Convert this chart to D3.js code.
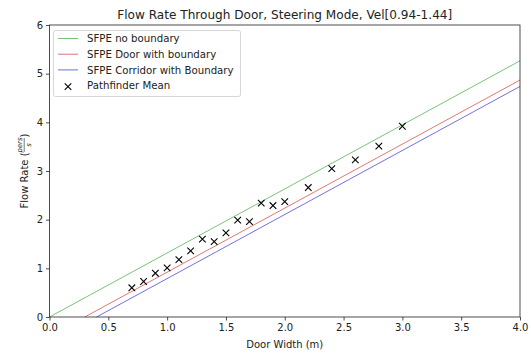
<!DOCTYPE html>
<html><head><meta charset="utf-8">
<script src="https://cdn.jsdelivr.net/npm/d3@7"></script>
<style>body{margin:0;background:#fff}svg{display:block}text{font-family:"DejaVu Sans",sans-serif;fill:#222}</style>
</head><body>
<svg id="c" width="531" height="354"></svg>
<script>
const title = "Flow Rate Through Door, Steering Mode, Vel[0.94-1.44]";
const xTicks = [0.0, 0.5, 1.0, 1.5, 2.0, 2.5, 3.0, 3.5, 4.0];
const yTicks = [0, 1, 2, 3, 4, 5, 6];
const pfWidth = [0.7,0.8,0.9,1.0,1.1,1.2,1.3,1.4,1.5,1.6,1.7,1.8,1.9,2.0,2.2,2.4,2.6,2.8,3.0];
const pfMean  = [0.60,0.73,0.90,1.01,1.18,1.36,1.60,1.55,1.73,1.99,1.96,2.34,2.29,2.37,2.66,3.05,3.23,3.51,3.92];
const sfpeWidth = [0.0, 0.3, 0.4, 4.0];
const sfpeNoBoundary = [0.0, 0.395, 0.526, 5.264];
const sfpeDoor = [null, 0.0, 0.132, 4.869];
const sfpeCorridor = [null, null, 0.0, 4.738];
const legendLabels = ["SFPE no boundary","SFPE Door with boundary","SFPE Corridor with Boundary","Pathfinder Mean"];
const colors = ["#2ca02c","#d62728","#1f1fd6"];

const svg = d3.select("#c");
const m = {l:49.5, r:520, t:25, b:317};
const x = d3.scaleLinear().domain([0,4]).range([m.l,m.r]);
const y = d3.scaleLinear().domain([0,6]).range([m.b,m.t]);
const fs = 10;

const line = d3.line().defined(d=>d[1]!==null).x(d=>x(d[0])).y(d=>y(d[1]));
[sfpeNoBoundary,sfpeDoor,sfpeCorridor].forEach((s,i)=>{
  svg.append("path").datum(sfpeWidth.map((w,j)=>[w,s[j]]))
    .attr("d",line).attr("fill","none").attr("stroke",colors[i]).attr("stroke-width",0.8).attr("opacity",0.8);
});

const cross = d3.symbol().type(d3.symbolX).size(30);
svg.append("g").selectAll("path").data(pfWidth).join("path")
  .attr("transform",(d,i)=>`translate(${x(d)},${y(pfMean[i])})`)
  .attr("d",cross).attr("fill","none").attr("stroke","#000").attr("stroke-width",1.1);

const xa = svg.append("g").attr("transform",`translate(0,${m.b})`)
  .call(d3.axisBottom(x).tickValues(xTicks).tickFormat(d3.format(".1f")).tickSize(3.5).tickPadding(3));
const ya = svg.append("g").attr("transform",`translate(${m.l},0)`)
  .call(d3.axisLeft(y).tickValues(yTicks).tickFormat(d3.format("d")).tickSize(3.5).tickPadding(3));
[xa,ya].forEach(a=>{a.select(".domain").remove();a.selectAll("text").attr("font-size",fs).style("font-family","DejaVu Sans").attr("fill","#222");a.selectAll("line").attr("stroke","#222").attr("stroke-width",0.8);});

svg.append("rect").attr("x",m.l).attr("y",m.t).attr("width",m.r-m.l).attr("height",m.b-m.t)
  .attr("fill","none").attr("stroke","#222").attr("stroke-width",0.8);

svg.append("text").attr("x",(m.l+m.r)/2).attr("y",18.5).attr("text-anchor","middle").attr("font-size",12.1).text(title);
svg.append("text").attr("x",(m.l+m.r)/2).attr("y",348).attr("text-anchor","middle").attr("font-size",fs).text("Door Width (m)");

// y label with fraction
const yl = svg.append("g").attr("transform",`translate(24,${(m.t+m.b)/2}) rotate(-90)`);
const t1 = yl.append("text").attr("x",0).attr("y",3.5).attr("font-size",fs).text("Flow Rate (");
const w1 = t1.node().getComputedTextLength();
const fx = w1 + 0.5;
yl.append("text").attr("x",fx+7).attr("y",-1.6).attr("text-anchor","middle").attr("font-size",6.8).attr("font-style","italic").text("pers");
yl.append("line").attr("x1",fx).attr("x2",fx+14).attr("y1",0.2).attr("y2",0.2).attr("stroke","#222").attr("stroke-width",0.6);
yl.append("text").attr("x",fx+7).attr("y",6.6).attr("text-anchor","middle").attr("font-size",6.8).attr("font-style","italic").text("s");
const t2 = yl.append("text").attr("x",fx+14.5).attr("y",3.5).attr("font-size",fs).text(")");
const total = fx + 14.5 + t2.node().getComputedTextLength();
yl.selectAll("*").each(function(){ const s=d3.select(this); ["x","x1","x2"].forEach(a=>{ if(s.attr(a)!==null) s.attr(a,+s.attr(a)-total/2); }); });

// legend
const lg = svg.append("g");
lg.append("rect").attr("x",53.5).attr("y",30.5).attr("width",187).attr("height",66).attr("rx",2)
  .attr("fill","#fff").attr("fill-opacity",0.8).attr("stroke","#ccc").attr("stroke-width",0.8);
legendLabels.forEach((t,i)=>{
  const yy = 38.5+i*15.7;
  if(i<3) lg.append("line").attr("x1",58).attr("x2",78).attr("y1",yy).attr("y2",yy).attr("stroke",colors[i]).attr("stroke-width",0.8).attr("opacity",0.8);
  else lg.append("path").attr("transform",`translate(68,${yy+1})`).attr("d",cross).attr("fill","none").attr("stroke","#000").attr("stroke-width",1.1);
  lg.append("text").attr("x",87).attr("y",yy+3.6).attr("font-size",10.2).text(t);
});
</script>
</body></html>
